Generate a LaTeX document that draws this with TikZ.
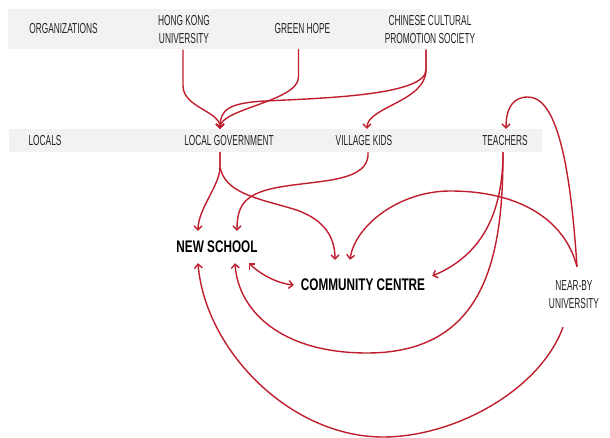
\documentclass[tikz,border=0pt]{standalone}
\usepackage{fontspec}
\setmainfont{Liberation Sans}
\newfontfamily\condfont[FakeStretch=0.575]{Liberation Sans}
\newfontfamily\condbold[FakeStretch=0.70]{Liberation Sans}
\usetikzlibrary{arrows.meta}
\definecolor{linkred}{HTML}{BE1E2D}
\definecolor{bandgray}{HTML}{F2F2F2}
\definecolor{labelgray}{HTML}{222222}
\tikzset{
  lbl/.style={font=\condfont\fontsize{14.5}{18.5}\selectfont, text=labelgray,
    inner sep=0pt, align=center},
  toplbl/.style={lbl, minimum height=40pt},
  rowlbl/.style={lbl, minimum height=23pt},
  hub/.style={font=\condbold\bfseries\fontsize{16.8}{20}\selectfont, text=black,
    inner ysep=0pt},
  band/.style={fill=bandgray},
  link/.style={draw=linkred, line width=1.4pt, ->},
  >={Straight Barb[length=4pt,width=8pt]}
}
\begin{document}
\begin{tikzpicture}[x=1pt,y=-1pt]
\useasboundingbox (0,0) rectangle (610,438);

% grey bands behind the two rows
\fill[band] (8,9) rectangle (422,49);
\fill[band] (9,129) rectangle (542,152);

% row of organizations
\node[toplbl] (org)  at (63.5,29) {ORGANIZATIONS};
\node[toplbl] (hku)  at (184,29.5) {HONG KONG\\UNIVERSITY};
\node[toplbl] (gh)   at (302.5,29) {GREEN HOPE};
\node[toplbl] (ccps) at (430,29.5) {CHINESE CULTURAL\\PROMOTION SOCIETY};

% row of locals
\node[rowlbl] (loc) at (45,140.5) {LOCALS};
\node[rowlbl] (lg)  at (229,140.5) {LOCAL GOVERNMENT};
\node[rowlbl] (vk)  at (364,140.5) {VILLAGE KIDS};
\node[rowlbl] (te)  at (505,140.5) {TEACHERS};

% projects and the university
\node[hub, minimum height=32pt] (ns) at (217,247) {NEW SCHOOL};
\node[hub, minimum height=50pt, inner xsep=7pt] (cc) at (363,285) {COMMUNITY CENTRE};
\node[lbl, minimum height=57pt] (nbu) at (574,294.5) {NEAR-BY\\UNIVERSITY};

% organizations -> locals
\draw[link] ([xshift=-1pt]hku.south) -- ++(0,36)
  .. controls +(0,22) and +(0,-18) .. ([xshift=-9pt]lg.north);
\draw[link] ([xshift=-4pt]gh.south) -- ++(0,28)
  .. controls +(0,24) and +(0,-20) .. ([xshift=-9pt]lg.north);
\draw[link] ([xshift=-4pt]ccps.south) -- ++(0,20)
  .. controls +(0,25) and (330,98) .. (265,101)
  .. controls (228,103) and (220,110) .. ([xshift=-9pt]lg.north);
\draw[link] ([xshift=-4pt]ccps.south) -- ++(0,20)
  .. controls +(0,32) and +(0,-22) .. ([xshift=3pt]vk.north);

% university -> teachers
\draw[link] ([shift={(3pt,-1pt)}]nbu.north) .. controls (570,160) and (556,97) .. (528,97)
  .. controls (513,97) and (506,108) .. ([xshift=1pt]te.north);

% local government -> projects
\draw[link] ([xshift=-9pt]lg.south) -- ++(0,15)
  .. controls +(0,18) and +(0,-22) .. ([xshift=-19pt]ns.north);
\draw[link] ([xshift=-9pt]lg.south) -- ++(0,15)
  .. controls +(5,25) and (255,198) .. (290,208)
  .. controls (322,217) and (335,235) .. ([xshift=-28pt]cc.north);

% village kids -> new school
\draw[link] ([xshift=4pt]vk.south) .. controls +(2,30) and (320,180) .. (280,187)
  .. controls (245,193) and (237,205) .. ([xshift=20pt]ns.north);

% university -> community centre
\draw[link] ([shift={(3pt,-1pt)}]nbu.north) .. controls (565,220) and (520,191) .. (450,191)
  .. controls (400,191) and (355,225) .. ([xshift=-13pt]cc.north);

% teachers -> projects
\draw[link] ([xshift=-2pt]te.south) .. controls +(0,70) and (475,258) .. ([yshift=9pt]cc.east);
\draw[link] ([xshift=-2pt]te.south) .. controls +(0,100) and (488,353) .. (367,353)
  .. controls (280,353) and (238,310) .. ([xshift=18pt]ns.south);

% university -> new school
\draw[link] ([shift={(-11pt,-4pt)}]nbu.south) .. controls (540,390) and (455,437) .. (383,437)
  .. controls (290,437) and (205,350) .. ([xshift=-19pt]ns.south);

% new school <-> community centre
\draw[link, <->] ([xshift=32pt]ns.south) .. controls +(9,9) and +(-19,-2) .. (cc.west);
\end{tikzpicture}
\end{document}
